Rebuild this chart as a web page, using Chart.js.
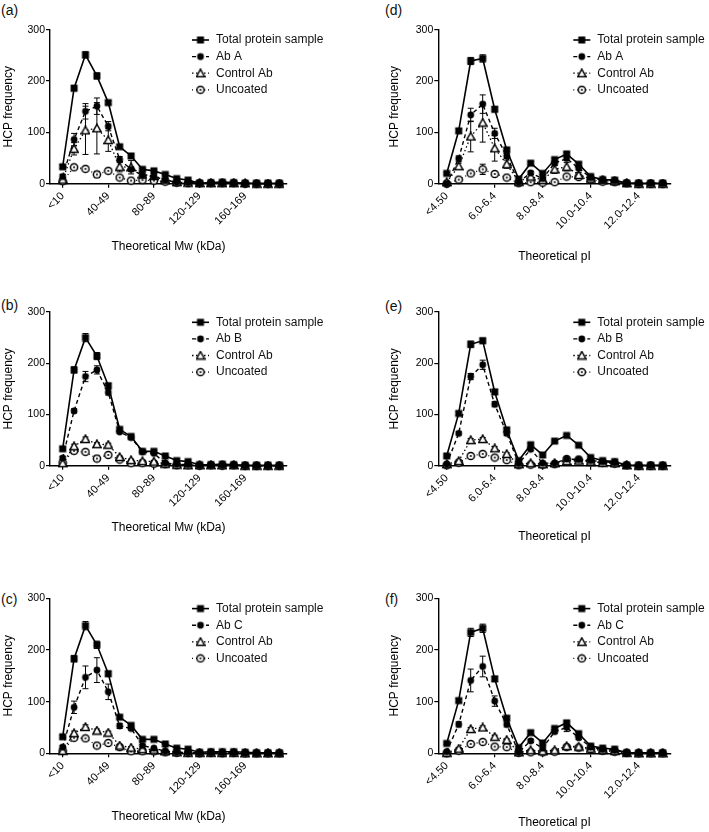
<!DOCTYPE html>
<html>
<head>
<meta charset="utf-8">
<script src="https://cdn.jsdelivr.net/npm/chart.js@4/dist/chart.umd.min.js"></script>
<style>
body{margin:0;background:#fff;width:709px;height:832px;position:relative;overflow:hidden;font-family:"Liberation Sans",Arial,sans-serif}
canvas{position:absolute}
.lbl{position:absolute;font-size:14px;color:#111;line-height:16px}
</style>
</head>
<body>
<div class="lbl" style="left:1px;top:2px">(a)</div>
<div class="lbl" style="left:1px;top:297px">(b)</div>
<div class="lbl" style="left:1px;top:591px">(c)</div>
<div class="lbl" style="left:385px;top:2px">(d)</div>
<div class="lbl" style="left:385px;top:298px">(e)</div>
<div class="lbl" style="left:385px;top:591px">(f)</div>
<canvas id="ca" width="350" height="275" style="left:0;top:0"></canvas>
<canvas id="cb" width="350" height="275" style="left:0;top:280px"></canvas>
<canvas id="cc" width="350" height="277" style="left:0;top:555px"></canvas>
<canvas id="cd" width="359" height="275" style="left:350px;top:0"></canvas>
<canvas id="ce" width="359" height="275" style="left:350px;top:280px"></canvas>
<canvas id="cf" width="359" height="277" style="left:350px;top:555px"></canvas>
<script>
// categories
var mwLabels = ["<10","10-19","20-29","30-39","40-49","50-59","60-69","70-79","80-89","90-99","100-109","110-119","120-129","130-139","140-149","150-159","160-169","170-179","180-189","≥190"];
var piLabels = ["<4.50","4.5-4.9","5.0-5.4","5.5-5.9","6.0-6.4","6.5-6.9","7.0-7.4","7.5-7.9","8.0-8.4","8.5-8.9","9.0-9.4","9.5-9.9","10.0-10.4","10.5-10.9","11.0-11.4","11.5-11.9","12.0-12.4","12.5-12.9",">12.9"];
var mwTicks = ["<10","40-49","80-89","120-129","160-169"];
var piTicks = ["<4.50","6.0-6.4","8.0-8.4","10.0-10.4","12.0-12.4"];
var seriesNames = ["Total protein sample", "Ab", "Control Ab", "Uncoated"];

// (a) Mw, Ab A
var a_total   = [33,186,251,210,158,72,54,28,25,18,10,7,1,2,3,2,1,1,1,1];
var a_ab      = [14,86,141,151,112,47,28,16,14,7,3,2,1,1,1,1,1,0,0,0];
var a_control = [8,68,104,108,85,33,32,18,15,8,3,2,1,1,1,1,1,0,0,0];
var a_unc     = [5,32,29,18,25,12,6,7,6,4,2,1,1,1,1,1,0,0,0,0];
var a_totalSD   = [3,5,6,6,4,3,3,2,2,2,1,1,0,0,0,0,0,0,0,0];
var a_abSD      = [4,12,15,16,9,6,4,3,2,2,1,0,0,0,0,0,0,0,0,0];
var a_controlSD = [3,12,47,50,22,10,13,5,4,3,1,0,0,0,0,0,0,0,0,0];
var a_uncSD     = [2,4,3,6,4,3,2,2,2,1,0,0,0,0,0,0,0,0,0,0];

// (b) Mw, Ab B
var b_total   = [33,187,250,214,156,71,57,28,28,19,10,8,2,2,3,2,1,1,1,1];
var b_ab      = [15,107,174,187,143,66,55,27,24,5,3,2,1,1,1,1,0,0,0,0];
var b_control = [5,38,52,42,41,17,11,9,8,4,2,1,1,1,1,1,0,0,0,0];
var b_unc     = [6,29,27,14,21,12,5,5,4,3,1,1,0,1,0,1,0,0,0,0];
var b_totalSD   = [3,6,8,7,5,3,2,2,2,1,1,0,0,0,0,0,0,0,0,0];
var b_abSD      = [3,4,10,8,5,3,2,1,1,1,0,0,0,0,0,0,0,0,0,0];
var b_controlSD = [2,4,4,3,3,2,2,2,2,1,0,0,0,0,0,0,0,0,0,0];
var b_uncSD     = [2,3,3,5,3,2,1,1,1,1,0,0,0,0,0,0,0,0,0,0];

// (c) Mw, Ab C
var c_total   = [32,183,247,210,154,70,54,27,27,18,10,8,2,3,3,3,2,1,1,1];
var c_ab      = [12,89,147,161,119,53,48,15,10,4,2,1,1,1,1,1,0,0,0,0];
var c_control = [5,39,51,44,40,15,11,8,7,4,2,1,1,1,1,1,0,0,0,0];
var c_unc     = [5,30,29,15,20,12,4,4,4,2,1,1,0,1,0,1,0,0,0,0];
var c_totalSD   = [3,6,8,7,5,3,2,2,2,1,1,0,0,0,0,0,0,0,0,0];
var c_abSD      = [3,12,22,24,15,5,3,2,1,1,0,0,0,0,0,0,0,0,0,0];
var c_controlSD = [2,4,4,3,3,2,2,2,1,1,0,0,0,0,0,0,0,0,0,0];
var c_uncSD     = [2,3,3,4,3,2,1,1,1,0,0,0,0,0,0,0,0,0,0,0];

// (d) pI, Ab A
var d_total   = [20,103,239,244,145,66,9,40,20,47,58,38,14,8,7,1,1,1,1];
var d_ab      = [0,49,134,155,98,54,3,21,10,40,49,30,12,8,6,1,1,1,1];
var d_control = [3,34,92,119,69,38,4,14,7,28,33,17,10,7,5,1,0,0,0];
var d_unc     = [0,8,20,28,19,12,1,3,2,3,14,13,8,4,3,1,0,0,0];
var d_totalSD   = [2,4,7,7,5,3,2,3,2,3,3,3,2,1,1,0,0,0,0];
var d_abSD      = [1,5,13,18,10,5,1,3,2,4,4,3,2,1,1,0,0,0,0];
var d_controlSD = [2,6,30,38,25,8,2,4,3,8,8,5,3,2,1,0,0,0,0];
var d_uncSD     = [1,2,3,10,3,3,1,1,1,1,3,3,2,1,1,0,0,0,0];

// (e) pI, Ab B
var e_total   = [19,102,237,244,144,70,10,41,21,48,59,40,16,10,8,1,1,1,1];
var e_ab      = [3,63,174,197,120,63,4,32,5,5,13,12,10,8,6,1,0,1,0];
var e_control = [3,9,50,52,34,23,3,5,3,5,9,10,8,6,5,1,0,0,0];
var e_unc     = [1,6,19,23,16,11,1,2,2,3,13,12,8,6,4,1,0,0,0];
var e_totalSD   = [2,4,6,5,5,3,2,3,2,2,2,2,2,1,1,0,0,0,0];
var e_abSD      = [1,3,6,9,5,4,1,3,1,1,2,2,1,1,1,0,0,0,0];
var e_controlSD = [1,2,3,3,3,2,1,1,1,1,2,2,1,1,1,0,0,0,0];
var e_uncSD     = [1,1,3,3,3,2,1,1,1,1,2,2,1,1,1,0,0,0,0];

// (f) pI, Ab C
var f_total   = [19,102,234,242,144,68,11,40,20,48,59,38,14,10,8,1,1,1,1];
var f_ab      = [3,56,141,168,101,56,2,24,10,42,50,30,12,8,6,1,1,1,1];
var f_control = [1,9,47,50,32,26,2,6,4,6,14,13,9,7,5,1,0,0,0];
var f_unc     = [0,5,18,22,13,12,1,2,2,3,12,11,8,5,3,1,0,0,0];
var f_totalSD   = [2,4,8,8,5,3,2,3,2,2,3,2,2,1,1,0,0,0,0];
var f_abSD      = [1,5,22,20,10,5,1,3,2,4,8,3,2,1,1,0,0,0,0];
var f_controlSD = [1,2,3,3,3,2,1,1,1,1,2,2,1,1,1,0,0,0,0];
var f_uncSD     = [1,1,3,3,3,2,1,1,1,1,2,2,1,1,1,0,0,0,0];

Chart.defaults.font.family = '"Liberation Sans", Arial, sans-serif';
Chart.defaults.color = '#000';

// marker images
function mark(kind){
    var c = document.createElement('canvas');
    c.width = 10; c.height = 10;
    var g = c.getContext('2d');
    g.fillStyle = '#000'; g.strokeStyle = '#000'; g.lineWidth = 1.5;
    if (kind == 'sq') {
        g.fillRect(1.5, 1.5, 7, 7);
    } else if (kind == 'dot') {
        g.beginPath(); g.arc(5, 5, 3.4, 0, 2*Math.PI); g.fill();
    } else if (kind == 'tri') {
        g.beginPath(); g.moveTo(5, 1); g.lineTo(9.2, 8.6); g.lineTo(0.8, 8.6); g.closePath();
        g.fillStyle = '#fff'; g.fill(); g.stroke();
    } else {
        g.beginPath(); g.arc(5, 5, 3.6, 0, 2*Math.PI);
        g.fillStyle = '#fff'; g.fill(); g.stroke();
        g.fillStyle = '#000'; g.beginPath(); g.arc(5, 5, 1, 0, 2*Math.PI); g.fill();
    }
    return c;
}
var markers = [mark('sq'), mark('dot'), mark('tri'), mark('ring')];
var dashes = [[], [4,3], [1.5,2.5], [1,3]];
var widths = [1.6, 1.4, 1.3, 1.3];

var errorBars = {
    id: 'errorBars',
    beforeDatasetsDraw: function(chart){
        var ctx = chart.ctx, xs = chart.scales.x, ys = chart.scales.y;
        ctx.save();
        ctx.strokeStyle = '#000';
        ctx.lineWidth = 1;
        chart.data.datasets.forEach(function(ds){
            ds.sd.forEach(function(e, i){
                if (!e) return;
                var x = xs.getPixelForValue(i);
                var y1 = ys.getPixelForValue(ds.data[i].y + e);
                var y2 = ys.getPixelForValue(Math.max(0, ds.data[i].y - e));
                ctx.beginPath();
                ctx.moveTo(x, y1); ctx.lineTo(x, y2);
                ctx.moveTo(x - 3, y1); ctx.lineTo(x + 3, y1);
                ctx.moveTo(x - 3, y2); ctx.lineTo(x + 3, y2);
                ctx.stroke();
            });
        });
        ctx.restore();
    }
};

var floatLegend = {
    id: 'floatLegend',
    afterDraw: function(chart){
        var ctx = chart.ctx, lx = chart.options.plugins.floatLegend.x;
        ctx.save();
        chart.data.datasets.forEach(function(ds, i){
            var y = chart.chartArea.top + 10.3 + 16.6*i;
            ctx.strokeStyle = '#000';
            ctx.lineWidth = ds.borderWidth;
            ctx.setLineDash(ds.borderDash);
            ctx.beginPath(); ctx.moveTo(lx, y); ctx.lineTo(lx + 17, y); ctx.stroke();
            ctx.setLineDash([]);
            ctx.drawImage(ds.pointStyle, lx + 8.5 - 5, y - 5);
            ctx.fillStyle = '#111';
            ctx.font = '12px "Liberation Sans", Arial, sans-serif';
            ctx.textBaseline = 'middle';
            ctx.fillText(ds.label, lx + 24, y);
        });
        ctx.restore();
    }
};

function drawPanel(id, kind, abName, vals, sds, p){
    var labels = kind == 'mw' ? mwLabels : piLabels;
    var ticks = kind == 'mw' ? mwTicks : piTicks;
    var datasets = vals.map(function(v, k){
        return {
            label: k == 1 ? abName : seriesNames[k],
            data: v.map(function(y, i){ return {x: i, y: y}; }),
            sd: sds[k],
            borderColor: '#000',
            borderWidth: widths[k],
            borderDash: dashes[k],
            pointStyle: markers[k],
            tension: 0,
            clip: false
        };
    });
    new Chart(document.getElementById(id), {
        type: 'line',
        data: { datasets: datasets },
        options: {
            responsive: false,
            animation: false,
            events: [],
            layout: {
                autoPadding: false,
                padding: { left: p.yt - 7.2, top: p.t, right: p.W - p.r, bottom: p.H - (p.xt + 7.2) }
            },
            plugins: { legend: {display: false}, tooltip: {enabled: false}, floatLegend: {x: p.lx} },
            scales: {
                x: {
                    type: 'linear',
                    min: kind == 'mw' ? -1.11 : -0.7,
                    max: kind == 'mw' ? 19.67 : 18.67,
                    afterBuildTicks: function(s){
                        s.ticks = ticks.map(function(t){ return {value: labels.indexOf(t)}; });
                    },
                    afterFit: function(s){ s.height = p.xt + 7.2 - p.b; },
                    ticks: {
                        autoSkip: false, minRotation: 45, maxRotation: 45, padding: 2,
                        font: {size: 11},
                        callback: function(v){ return labels[v]; }
                    },
                    grid: { drawOnChartArea: false, drawTicks: true, tickLength: 4, color: '#000', lineWidth: 1.2 },
                    border: { color: '#000', width: 1.4 },
                    title: { display: true, text: kind == 'mw' ? 'Theoretical Mw (kDa)' : 'Theoretical pI', font: {size: 12}, padding: 0 }
                },
                y: {
                    min: 0, max: 300,
                    afterFit: function(s){ s.width = p.l - (p.yt - 7.2); },
                    ticks: { stepSize: 100, padding: 1, font: {size: 10.5} },
                    grid: { drawOnChartArea: false, drawTicks: true, tickLength: 4, color: '#000', lineWidth: 1.2 },
                    border: { color: '#000', width: 1.4 },
                    title: { display: true, text: 'HCP frequency', font: {size: 12}, padding: 0 }
                }
            }
        },
        plugins: [errorBars, floatLegend]
    });
}

var leftCol = {W: 350, l: 50, r: 287, yt: 9, lx: 192};
var rightCol = {W: 359, l: 88.3, r: 320.7, yt: 45, lx: 223.3};
function geo(col, t, b, xt, H){
    return {W: col.W, l: col.l, r: col.r, yt: col.yt, lx: col.lx, t: t, b: b, xt: xt, H: H};
}

drawPanel('ca', 'mw', 'Ab A', [a_total, a_ab, a_control, a_unc], [a_totalSD, a_abSD, a_controlSD, a_uncSD], geo(leftCol, 29.7, 183.7, 247, 275));
drawPanel('cb', 'mw', 'Ab B', [b_total, b_ab, b_control, b_unc], [b_totalSD, b_abSD, b_controlSD, b_uncSD], geo(leftCol, 32, 185.7, 248, 275));
drawPanel('cc', 'mw', 'Ab C', [c_total, c_ab, c_control, c_unc], [c_totalSD, c_abSD, c_controlSD, c_uncSD], geo(leftCol, 43.3, 198.3, 261.7, 277));
drawPanel('cd', 'pi', 'Ab A', [d_total, d_ab, d_control, d_unc], [d_totalSD, d_abSD, d_controlSD, d_uncSD], geo(rightCol, 29.7, 183.7, 257, 275));
drawPanel('ce', 'pi', 'Ab B', [e_total, e_ab, e_control, e_unc], [e_totalSD, e_abSD, e_controlSD, e_uncSD], geo(rightCol, 32, 185.7, 257, 275));
drawPanel('cf', 'pi', 'Ab C', [f_total, f_ab, f_control, f_unc], [f_totalSD, f_abSD, f_controlSD, f_uncSD], geo(rightCol, 43.3, 198.3, 268, 277));
</script>
</body>
</html>
